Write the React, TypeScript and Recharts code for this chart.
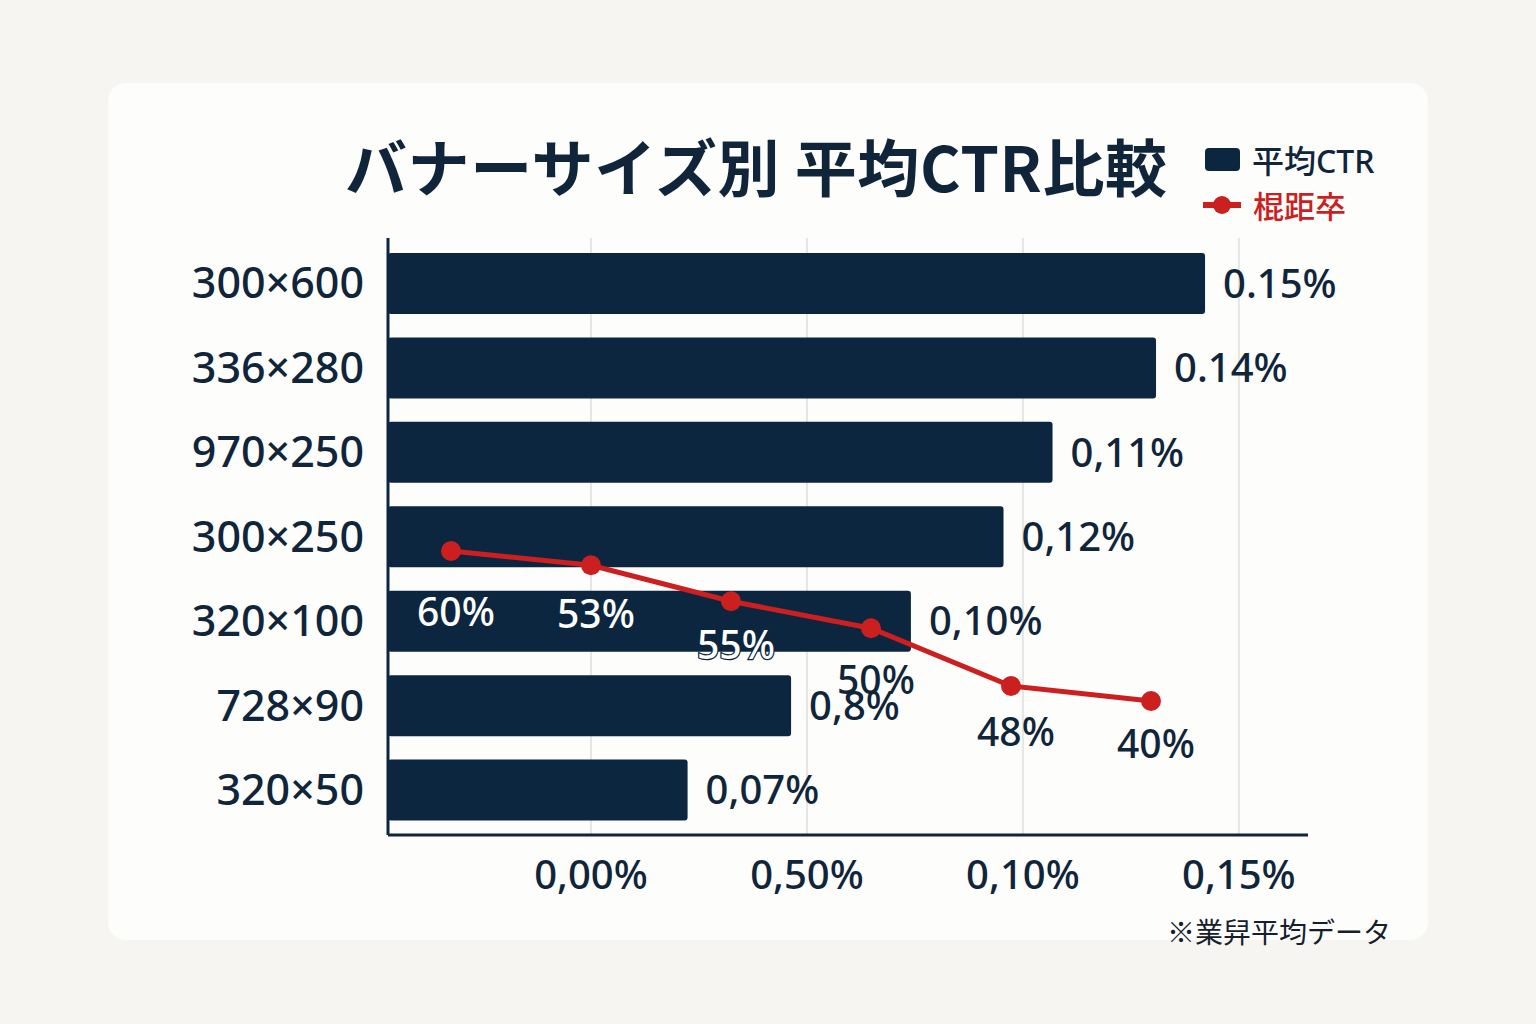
import React from 'react';
import {
  BarChart,
  Bar,
  XAxis,
  YAxis,
  CartesianGrid,
  LabelList,
  LineChart,
  Line,
} from 'recharts';

// banner sizes (top to bottom)
const sizes = ['300×600', '336×280', '970×250', '300×250', '320×100', '728×90', '320×50'];
// bar lengths as drawn, in CTR %
const ctrLength = [0.15, 0.141, 0.122, 0.113, 0.096, 0.074, 0.055];
// labels as printed next to the bars
const ctrLabels = ['0.15%', '0.14%', '0,11%', '0,12%', '0,10%', '0,8%', '0,07%'];
// x-axis tick labels as printed
const tickValues = [0, 1, 2, 3];
const tickLabels = ['0,00%', '0,50%', '0,10%', '0,15%'];
// line: plotted heights and the printed labels
const ratePlot = [60, 58.1, 53.3, 49.7, 42, 40];
const rateLabels = ['60%', '53%', '55%', '50%', '48%', '40%'];

const NAVY = '#0c2640';
const TEXT = '#10253a';
const RED = '#cc1f1f';
const CJK = '"Noto Sans CJK JP", "Noto Sans", sans-serif';
const LATIN = '"Noto Sans", "Noto Sans CJK JP", sans-serif';

// label nudges below each point (layout only)
const RATE_LABEL_DY = [60, 47, 42, 50, 45, 42];

const W = 1536;
const H = 1024;
const MARGIN = { top: 238, right: 228, bottom: 129, left: 188 };
const PLOT_LEFT = 388;
const PLOT_RIGHT = W - MARGIN.right;

const barData = sizes.map((size, i) => ({ size, len: ctrLength[i], label: ctrLabels[i] }));
const lineData = ratePlot.map((rate, i) => ({ k: String(i), rate, label: rateLabels[i] }));

function RateLabel(props: any) {
  const { x, y, index, value } = props;
  const light = index < 3;
  return (
    <text
      x={x + 5}
      y={y + RATE_LABEL_DY[index]}
      textAnchor="middle"
      dominantBaseline="central"
      fontSize={39}
      fontWeight={500}
      fontFamily={LATIN}
      fill={light ? '#ffffff' : TEXT}
      stroke={light ? NAVY : 'none'}
      strokeWidth={light ? 2.5 : 0}
      style={{ paintOrder: 'stroke' }}
    >
      {value}
    </text>
  );
}

// grid lines only at the ticks, not at the plot edges
function GridLine(props: any) {
  const { x1, y1, x2, y2 } = props;
  if (x1 <= PLOT_LEFT + 2 || x1 >= PLOT_RIGHT - 2) return <g />;
  return <line x1={x1} y1={y1} x2={x2} y2={y2} stroke="#e6e6e4" strokeWidth={2} />;
}

export default function App() {
  return (
    <div
      style={{
        position: 'fixed',
        left: 0,
        top: 0,
        width: W,
        height: H,
        background: '#f6f5f2',
        fontFamily: CJK,
        color: TEXT,
        overflow: 'hidden',
      }}
    >
      <div
        style={{
          position: 'absolute',
          left: 108,
          top: 83,
          width: 1320,
          height: 857,
          borderRadius: 18,
          background: '#fdfdfc',
        }}
      />

      <div style={{ position: 'absolute', left: 0, top: 0 }}>
        <BarChart width={W} height={H} data={barData} layout="vertical" margin={MARGIN}>
          <CartesianGrid xAxisId="tick" horizontal={false} vertical={GridLine} />
          <XAxis
            xAxisId="tick"
            type="number"
            domain={[-0.94, 3.32]}
            ticks={tickValues}
            allowDataOverflow
            tickFormatter={(v: number) => tickLabels[v]}
            height={60}
            axisLine={{ stroke: NAVY, strokeWidth: 3 }}
            tickLine={false}
            tickMargin={20}
            tick={{ fontSize: 40, fill: TEXT, fontFamily: LATIN, fontWeight: 500 }}
          />
          <XAxis xAxisId="len" type="number" domain={[0, 0.1689]} hide height={0} />
          <YAxis
            type="category"
            dataKey="size"
            width={200}
            padding={{ top: 3, bottom: 3 }}
            axisLine={{ stroke: NAVY, strokeWidth: 3 }}
            tickLine={false}
            tickMargin={18}
            tick={{ fontSize: 43, fill: TEXT, fontFamily: LATIN, fontWeight: 500 }}
          />
          <Bar
            xAxisId="len"
            dataKey="len"
            barSize={61}
            fill={NAVY}
            radius={3}
            isAnimationActive={false}
          >
            <LabelList
              dataKey="label"
              position="right"
              offset={18}
              style={{ fontSize: 40, fill: TEXT, fontFamily: LATIN, fontWeight: 500 }}
            />
          </Bar>
        </BarChart>
      </div>

      <div style={{ position: 'absolute', left: 0, top: 0, pointerEvents: 'none' }}>
        <LineChart
          width={W}
          height={H}
          data={lineData}
          margin={{ top: 238, right: 228, bottom: 189, left: 388 }}
        >
          <XAxis dataKey="k" hide padding={{ left: 63, right: 157 }} />
          <YAxis hide domain={[22.13, 101.73]} />
          <Line
            dataKey="rate"
            stroke={RED}
            strokeWidth={5}
            dot={{ r: 10, fill: RED, stroke: RED, strokeWidth: 0 }}
            activeDot={false}
            isAnimationActive={false}
          >
            <LabelList dataKey="label" content={<RateLabel />} />
          </Line>
        </LineChart>
      </div>

      <div
        style={{
          position: 'absolute',
          left: 345,
          top: 132,
          fontSize: 62,
          lineHeight: '66px',
          fontWeight: 600,
          letterSpacing: 0.6,
          whiteSpace: 'nowrap',
        }}
      >
        バナーサイズ別 平均CTR比較
      </div>

      {/* legend */}
      <div
        style={{
          position: 'absolute',
          left: 1205,
          top: 148,
          width: 35,
          height: 23,
          borderRadius: 4,
          background: NAVY,
        }}
      />
      <div
        style={{
          position: 'absolute',
          left: 1252,
          top: 141,
          fontSize: 32,
          lineHeight: '36px',
          fontWeight: 500,
          whiteSpace: 'nowrap',
        }}
      >
        平均<span style={{ fontFamily: LATIN }}>CTR</span>
      </div>
      <div
        style={{
          position: 'absolute',
          left: 1203,
          top: 202,
          width: 38,
          height: 6,
          background: RED,
        }}
      />
      <div
        style={{
          position: 'absolute',
          left: 1213,
          top: 196,
          width: 18,
          height: 18,
          borderRadius: 9,
          background: RED,
        }}
      />
      <div
        style={{
          position: 'absolute',
          left: 1253,
          top: 187,
          fontSize: 31,
          lineHeight: '36px',
          fontWeight: 500,
          color: RED,
          whiteSpace: 'nowrap',
        }}
      >
        棍距卒
      </div>

      <div
        style={{
          position: 'absolute',
          left: 1167,
          top: 914,
          fontSize: 28,
          lineHeight: '34px',
          color: '#15202b',
          whiteSpace: 'nowrap',
        }}
      >
        ※業舁平均データ
      </div>
    </div>
  );
}
